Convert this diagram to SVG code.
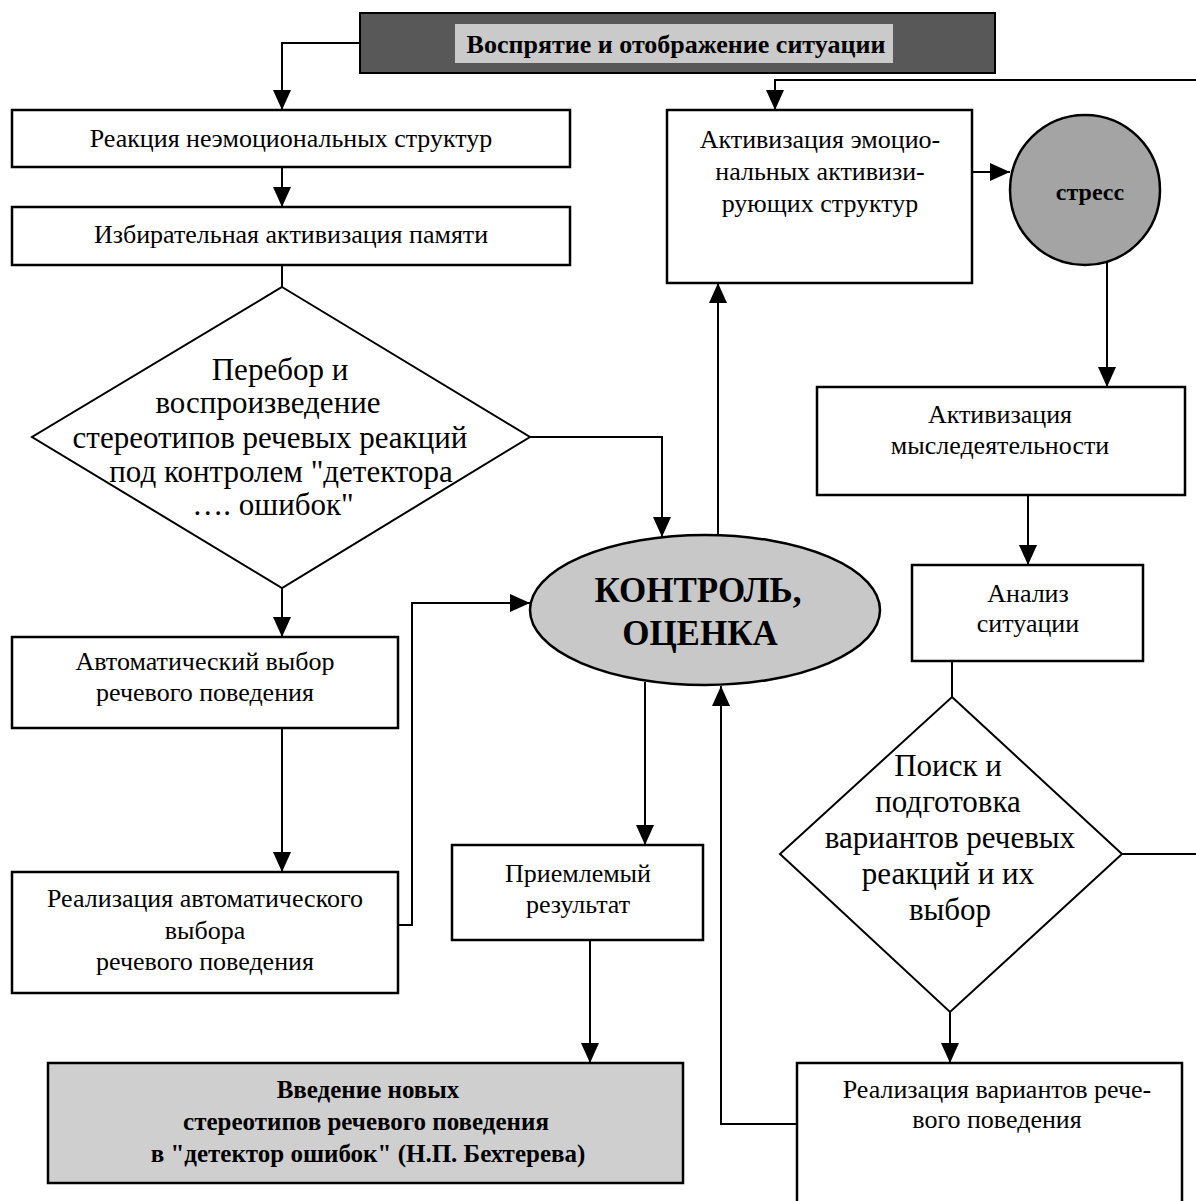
<svg xmlns="http://www.w3.org/2000/svg" width="1196" height="1201" viewBox="0 0 1196 1201">
<style>
.box{fill:#fff;stroke:#000;stroke-width:2.5}
.dia{fill:#fff;stroke:#000;stroke-width:2}
.t{font-family:"Liberation Serif","Times New Roman",serif;font-size:26px;fill:#000;text-anchor:middle}
.d{font-family:"Liberation Serif","Times New Roman",serif;font-size:31px;fill:#000;text-anchor:middle}
.b{font-family:"Liberation Serif","Times New Roman",serif;font-weight:bold;fill:#000;text-anchor:middle}
.c{fill:none;stroke:#000;stroke-width:2}
</style>
<defs>
<marker id="ah" markerUnits="userSpaceOnUse" markerWidth="22" markerHeight="20" refX="20" refY="9" orient="auto">
<path d="M0,0 L20,9 L0,18 Z" fill="#000"/>
</marker>
</defs>

<g id="connectors">
<path class="c" d="M360,43 H282 V110" marker-end="url(#ah)"/>
<path class="c" d="M282,167 V207" marker-end="url(#ah)"/>
<path class="c" d="M282,265 V287"/>
<path class="c" d="M282,588 V637" marker-end="url(#ah)"/>
<path class="c" d="M282,728 V872" marker-end="url(#ah)"/>
<path class="c" d="M398,925 H412 V603 H530" marker-end="url(#ah)"/>
<path class="c" d="M530,437 H662 V537" marker-end="url(#ah)"/>
<path class="c" d="M718,535 V283" marker-end="url(#ah)"/>
<path class="c" d="M645,682 V845" marker-end="url(#ah)"/>
<path class="c" d="M590,940 V1063" marker-end="url(#ah)"/>
<path class="c" d="M1196,80 H775 V110" marker-end="url(#ah)"/>
<path class="c" d="M972,172 H1010" marker-end="url(#ah)"/>
<path class="c" d="M1107,262 V387" marker-end="url(#ah)"/>
<path class="c" d="M1028,495 V565" marker-end="url(#ah)"/>
<path class="c" d="M952,661 V697"/>
<path class="c" d="M950,1012 V1063" marker-end="url(#ah)"/>
<path class="c" d="M1122,854 H1196"/>
<path class="c" d="M797,1124 H721 V686" marker-end="url(#ah)"/>
</g>

<g id="banner">
<rect x="360" y="13" width="635" height="60" fill="#585858" stroke="#000" stroke-width="2"/>
<rect x="455" y="24" width="438" height="39" fill="#cacaca"/>
<text class="b" x="676" y="53" font-size="26">Воспрятие и отображение ситуации</text>
</g>

<g id="n1">
<rect class="box" x="12" y="110" width="558" height="57"/>
<text class="t" x="291" y="147">Реакция неэмоциональных структур</text>
</g>

<g id="n2">
<rect class="box" x="12" y="207" width="558" height="58"/>
<text class="t" x="291" y="243">Избирательная активизация памяти</text>
</g>

<g id="n3">
<polygon class="dia" points="282,287 530,437 282,588 32,437"/>
<text class="d" x="280" y="380">Перебор и</text>
<text class="d" x="268" y="413">воспроизведение</text>
<text class="d" x="270" y="448">стереотипов речевых реакций</text>
<text class="d" x="281" y="482">под контролем "детектора</text>
<text class="d" x="273" y="515">…. ошибок"</text>
</g>

<g id="n4">
<rect class="box" x="12" y="637" width="386" height="91"/>
<text class="t" x="205" y="670">Автоматический выбор</text>
<text class="t" x="205" y="701">речевого поведения</text>
</g>

<g id="n5">
<rect class="box" x="12" y="872" width="386" height="121"/>
<text class="t" x="205" y="907">Реализация автоматического</text>
<text class="t" x="205" y="939">выбора</text>
<text class="t" x="205" y="970">речевого поведения</text>
</g>

<g id="n6">
<ellipse cx="705" cy="610" rx="175" ry="75" fill="#c8c8c8" stroke="#000" stroke-width="2.5"/>
<text class="b" x="698" y="602" font-size="35">КОНТРОЛЬ,</text>
<text class="b" x="700" y="645" font-size="35">ОЦЕНКА</text>
</g>

<g id="n7">
<rect class="box" x="452" y="845" width="251" height="95"/>
<text class="t" x="578" y="882">Приемлемый</text>
<text class="t" x="578" y="913">результат</text>
</g>

<g id="n8">
<rect x="48" y="1063" width="635" height="120" fill="#cfcfcf" stroke="#000" stroke-width="2.5"/>
<text class="b" x="368" y="1098" font-size="25">Введение новых</text>
<text class="b" x="366" y="1130" font-size="25">стереотипов речевого поведения</text>
<text class="b" x="368" y="1162" font-size="25">в "детектор ошибок" (Н.П. Бехтерева)</text>
</g>

<g id="n9">
<rect class="box" x="667" y="110" width="305" height="173"/>
<text class="t" x="820" y="148">Активизация эмоцио-</text>
<text class="t" x="820" y="180">нальных активизи-</text>
<text class="t" x="820" y="212">рующих структур</text>
</g>

<g id="n10">
<circle cx="1085" cy="190" r="75" fill="#a4a4a4" stroke="#000" stroke-width="2.5"/>
<text class="b" x="1090" y="200" font-size="24">стресс</text>
</g>

<g id="n11">
<rect class="box" x="817" y="387" width="368" height="108"/>
<text class="t" x="1000" y="423">Активизация</text>
<text class="t" x="1000" y="454">мыследеятельности</text>
</g>

<g id="n12">
<rect class="box" x="912" y="565" width="231" height="96"/>
<text class="t" x="1028" y="602">Анализ</text>
<text class="t" x="1028" y="632">ситуации</text>
</g>

<g id="n13">
<polygon class="dia" points="952,697 1122,854 950,1012 780,854"/>
<text class="d" x="948" y="776">Поиск и</text>
<text class="d" x="948" y="812">подготовка</text>
<text class="d" x="950" y="848">вариантов речевых</text>
<text class="d" x="948" y="884">реакций и их</text>
<text class="d" x="950" y="920">выбор</text>
</g>

<g id="n14">
<path class="box" d="M797,1210 V1063 H1182 V1210"/>
<text class="t" x="997" y="1098">Реализация вариантов рече-</text>
<text class="t" x="997" y="1128">вого поведения</text>
</g>
</svg>
